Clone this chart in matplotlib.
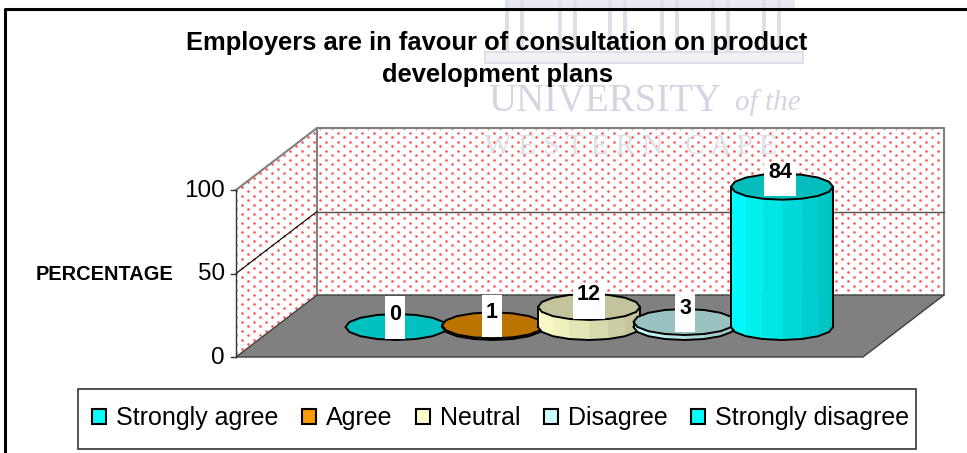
import matplotlib
matplotlib.use("Agg")
import matplotlib.pyplot as plt
import numpy as np
from matplotlib.colors import to_rgb
from matplotlib.patches import Polygon, Rectangle

plt.rcParams["font.family"] = ["Liberation Sans", "DejaVu Sans"]

title = "Employers are in favour of consultation on product\ndevelopment plans"
categories = ["Strongly agree", "Agree", "Neutral", "Disagree", "Strongly disagree"]
values = [0, 1, 12, 3, 84]
y_ticks = [0, 50, 100]
ylabel = "PERCENTAGE"

side_left = ["#00FFFF", "#FF9900", "#FFFFCC", "#CCFFFF", "#00FFFF"]
side_right = ["#00BFBF", "#BF7300", "#BFBF99", "#99BFBF", "#00BFBF"]
lid_colors = ["#00C0C0", "#BD7300", "#C4C49C", "#99C2C0", "#05BDBD"]
legend_colors = ["#00FFFF", "#FF9900", "#FFFFCC", "#CCFFFF", "#00FFFF"]

# the "3D" box is laid out in image pixels
Y0, PX_PER_UNIT = 357, 1.67
DX, DY = 81, 62
X0, X1 = 236, 863
BASE_Y = 327
CENTERS = [396.5, 493, 589, 684.5, 782]
RX, RY = 51, 13
label_x = [395, 492, 589, 685, 780]
label_y = [315, 313, 295, 308, 172]
box_above = [19, 18, 12, 15, 9]


def py(v):
    return Y0 - v * PX_PER_UNIT


fig = plt.figure(figsize=(9.67, 4.53), dpi=100)
ax = fig.add_axes([0, 0, 1, 1])
ax.set_xlim(0, 967)
ax.set_ylim(453, 0)
ax.axis("off")

# scanned page watermark behind the chart
wm = "#DDDFE9"
ax.add_patch(Rectangle((505, 0), 290, 8, fc="#E9EAF1", ec="none", zorder=1))
for x in [505, 558, 608, 660, 711, 762]:
    ax.add_patch(Rectangle((x, 0), 4, 52, fc=wm, ec="none", zorder=1))
    ax.add_patch(Rectangle((x + 15, 0), 4, 52, fc=wm, ec="none", zorder=1))
ax.add_patch(Rectangle((485, 52), 318, 11, fc="#F1F2F6", ec=wm, lw=1.5, zorder=1))
ax.text(488, 101, "UNIVERSITY", family="Liberation Serif", fontsize=28, color="#D3D5E2",
        va="center", ha="left", zorder=1)
ax.text(735, 103, "of the", family="Liberation Serif", fontsize=21, style="italic",
        color="#D3D5E2", va="center", ha="left", zorder=1)

# frame around the chart
ax.plot([5, 5, 967], [453, 9, 9], color="black", lw=2.2, zorder=2)

# walls with the dotted fill, then floor
side_wall = Polygon([(X0, py(100)), (X0 + DX, py(100) - DY), (X0 + DX, py(0) - DY), (X0, py(0))],
                    fc="white", ec="none", zorder=2)
back_wall = Rectangle((X0 + DX, py(100) - DY), X1 - X0, 100 * PX_PER_UNIT, fc="white", ec="none", zorder=2)
ax.add_patch(side_wall)
ax.add_patch(back_wall)
rows = np.arange(py(100) - DY, py(0), 4.5)
dots_x, dots_y = [], []
for r, y in enumerate(rows):
    xs = np.arange(X0 + (r % 2) * 6, X1 + DX, 12)
    dots_x.extend(xs)
    dots_y.extend([y] * len(xs))
for wall in [side_wall, back_wall]:
    pts = ax.scatter(dots_x, dots_y, s=3.6, color="#FF2A2A", alpha=0.8, linewidths=0, zorder=2.5)
    pts.set_clip_path(wall)

ax.plot([X0, X0 + DX, X0 + DX], [py(100), py(100) - DY, py(0) - DY], color="#808080", lw=1.5, zorder=3)
ax.plot([X0 + DX, X1 + DX, X1 + DX], [py(100) - DY, py(100) - DY, py(0) - DY], color="#808080", lw=1.5, zorder=3)
ax.add_patch(Polygon([(X0, py(0)), (X0 + DX, py(0) - DY), (X1 + DX, py(0) - DY), (X1, py(0))],
                     fc="#808080", ec="#404040", lw=1, zorder=3))
ax.plot([X0, X0 + DX], [py(50), py(50) - DY], color="black", lw=0.8, zorder=3)
ax.plot([X0 + DX, X1 + DX], [py(50) - DY, py(50) - DY], color="#505050", lw=1, zorder=3)
ax.text(484, 147, "W E S T E R N   C A P E", family="Liberation Serif", fontsize=21,
        color="#DFE0EA", va="center", zorder=3)

# y axis
ax.plot([X0, X0], [py(100), py(0)], color="#333333", lw=1, zorder=4)
for t in y_ticks:
    ax.plot([X0 - 5, X0], [py(t), py(t)], color="#333333", lw=1, zorder=4)
    ax.text(225, py(t) + 1, str(t), fontsize=17.5, ha="right", va="center", zorder=4)
ax.text(36, 275, ylabel, fontsize=14.4, weight="bold", ha="left", va="center", zorder=4)

# flat cylinders, 16 sided like the reference
theta = np.linspace(0, 2 * np.pi, 17)
for i, (cx, v) in enumerate(zip(CENTERS, values)):
    top = BASE_Y - v * PX_PER_UNIT
    ex, ey = cx + RX * np.cos(theta), RY * np.sin(theta)
    z = 5 + i
    if v > 0:
        c0 = np.array(to_rgb(side_left[i]))
        c1 = np.array(to_rgb(side_right[i]))
        for j in range(8):
            # front half of the ellipse, drawn facet by facet
            xa, xb = ex[j], ex[j + 1]
            ya, yb = ey[j], ey[j + 1]
            f = ((xa + xb) / 2 - (cx - RX)) / (2 * RX)
            col = c0 + (c1 - c0) * f
            ax.add_patch(Polygon([(xa, BASE_Y + ya), (xb, BASE_Y + yb), (xb, top + yb), (xa, top + ya)],
                                 fc=col, ec=col, lw=0.3, zorder=z))
        ax.plot(ex[:9], BASE_Y + ey[:9], color="black", lw=1.4, zorder=z)
        ax.plot([cx + RX, cx + RX], [top, BASE_Y], color="black", lw=1.4, zorder=z)
        ax.plot([cx - RX, cx - RX], [top, BASE_Y], color="black", lw=1.4, zorder=z)
    ax.add_patch(Polygon(np.column_stack([ex, top + ey]), fc=lid_colors[i], ec="black", lw=1.4, zorder=z + 0.5))

# data labels on tall white boxes
for v, lx, ly, above in zip(values, label_x, label_y, box_above):
    w = 32 if v >= 10 else 20
    ax.add_patch(Rectangle((lx - w / 2, ly - above), w, above + 24, fc="white", ec="none", zorder=19))
    ax.text(lx, ly, str(v), fontsize=15.5, weight="bold", ha="center", va="center", zorder=20)

ax.text(497, 59, title, fontsize=18.35, weight="bold", ha="center", va="center", linespacing=1.45, zorder=20)

# legend box is a little off centre from its entries, so the frame is drawn apart
ax.add_patch(Rectangle((78, 389), 838, 60, fc="white", ec="#333333", lw=1.2, zorder=19))
handles = [Rectangle((0, 0), 1, 1, fc=c, ec="black", lw=1.5) for c in legend_colors]
leg = ax.legend(handles, categories, ncol=5, loc="center", bbox_to_anchor=(500.5, 418),
                bbox_transform=ax.transData, fontsize=18, frameon=False,
                handlelength=0.55, handleheight=0.55,
                handletextpad=0.4, columnspacing=0.95, borderpad=0, borderaxespad=0)
leg.set_zorder(20)

fig.savefig("out.png", dpi=100)
